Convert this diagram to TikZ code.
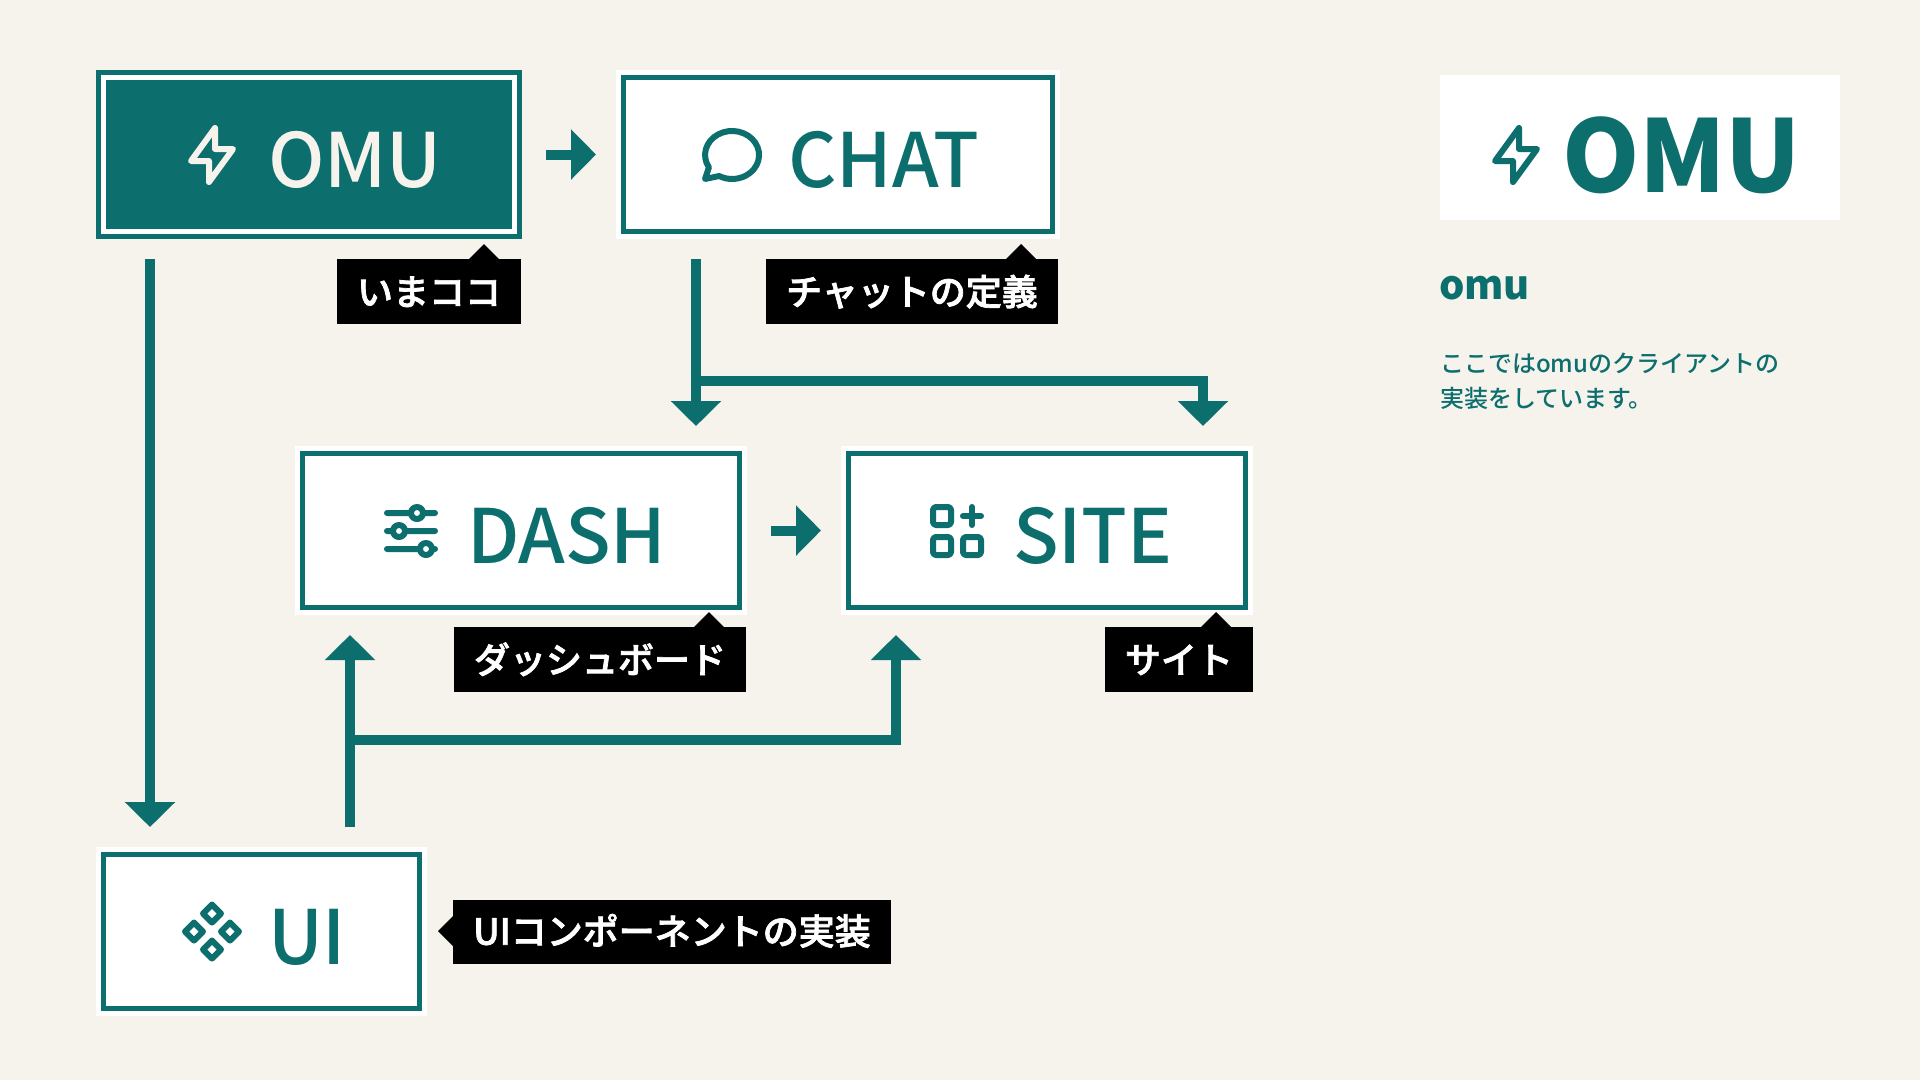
\documentclass[tikz,border=0pt]{standalone}
\usepackage{fontspec}
\usetikzlibrary{arrows.meta,calc}
\setmainfont{Noto Sans CJK JP}
\newfontfamily\medf{Noto Sans CJK JP Medium}
\newfontfamily\semif[FakeBold=2]{Noto Sans CJK JP Medium}
\definecolor{teal0}{HTML}{0D6E6E}
\definecolor{paper}{HTML}{F5F3EC}
\newcommand{\fsz}[1]{\fontsize{#1}{#1}\selectfont}
\tikzset{
  tagbox/.style={rectangle,fill=black,text=white,inner sep=0pt,outer sep=0pt,font=\fsz{36}\semif,text height=31.7pt,text depth=4.3pt,minimum height=65pt,anchor=north west},
  boxlabel/.style={inner sep=0pt,outer sep=0pt,anchor=base west,font=\fsz{75}\medf,text=teal0},
  conn/.style={draw=teal0,line width=10pt,line cap=butt,line join=miter},
  tip/.style={-{Triangle[length=25pt,width=49pt]},shorten >=20pt},
  ico/.style={line width=6pt,line cap=round,line join=round}
}
\newcommand{\iconbolt}[3]{\begin{scope}[shift={(#1,#2)},x=3pt,y=3pt]
 \draw[ico,draw=#3] (1,9)--(1,2)--(7,2)--(-1,-9)--(-1,-2)--(-7,-2)--cycle;\end{scope}}
\newcommand{\iconchat}[3]{\begin{scope}[shift={(#1,#2)},x=3pt,y=3pt]
 \draw[ico,draw=#3] (-9,-8)--(-7.7,-4.1) arc[start angle=210.9,end angle=-118.7,x radius=27pt,y radius=24pt]--cycle;\end{scope}}
\newcommand{\iconadj}[3]{\begin{scope}[shift={(#1,#2)},x=3pt,y=3pt]
 \draw[ico,draw=#3] (2,6) circle[radius=6pt] (-8,6)--(0,6) (4,6)--(8,6)
  (-4,0) circle[radius=6pt] (-8,0)--(-6,0) (-2,0)--(8,0)
  (5,-6) circle[radius=6pt] (-8,-6)--(3,-6) (7,-6)--(8,-6);\end{scope}}
\newcommand{\iconapps}[3]{\begin{scope}[shift={(#1,#2)},x=3pt,y=3pt]
 \draw[ico,draw=#3,rounded corners=3pt] (-8,8) rectangle (-2,2) (-8,-2) rectangle (-2,-8) (2,-2) rectangle (8,-8);
 \draw[ico,draw=#3] (2,5)--(8,5) (5,8)--(5,2);\end{scope}}
\newcommand{\iconcomp}[3]{\begin{scope}[shift={(#1,#2)},x=3pt,y=3pt]
 \foreach \cx/\cy in {-6/0,6/0,0/6,0/-6}{\draw[ico,draw=#3] (\cx-3,\cy)--(\cx,\cy-3)--(\cx+3,\cy)--(\cx,\cy+3)--cycle;}\end{scope}}
\newcommand{\whitebox}[6]{% name, x0,y0,x1,y1
 \node[rectangle,inner sep=0pt,outer sep=0pt,fill=white,minimum width=#4pt-#2pt,minimum height=#5pt-#3pt,anchor=north west] (#1) at (#2,#3) {};
 \draw[draw=teal0,line width=5pt,fill=white] (#2+7.5,#3+7.5) rectangle (#4-7.5,#5-7.5);}
\newcommand{\ptr}[2]{\fill[black] (#1-15,#2) -- (#1,#2-15) -- (#1+15,#2) -- cycle;}
\begin{document}
\begin{tikzpicture}[x=1pt,y=-1pt]
\fill[paper] (0,0) rectangle (1920,1080);
\useasboundingbox (0,0) rectangle (1920,1080);
% boxes
\node[rectangle,inner sep=0pt,outer sep=0pt,fill=teal0,minimum width=426pt,minimum height=169pt,anchor=north west] (omu) at (96,70) {};
\draw[draw=white,line width=5pt] (103.5,77.5) rectangle (514.5,231.5);
\whitebox{chat}{616}{70}{1060}{239}{}
\whitebox{dash}{295}{446}{747}{615}{}
\whitebox{site}{841}{446}{1253}{615}{}
\whitebox{ui}{96}{847}{427}{1016}{}
% icons
\iconbolt{212}{155}{paper}
\iconchat{732}{155}{teal0}
\iconadj{411}{531}{teal0}
\iconapps{957}{531}{teal0}
\iconcomp{212}{931.5}{teal0}
% labels
\node[boxlabel,text=paper] (omutext) at (268,187) {OMU};
\node[boxlabel] (chattext) at (788,187) {CHAT};
\node[boxlabel] (dashtext) at (467,563) {DASH};
\node[boxlabel] (sitetext) at (1013,563) {SITE};
\node[boxlabel] (uitext) at (268,964) {UI};
% connectors
\draw[conn,tip,shorten <=24pt] (omu.east) -- (chat.west);
\draw[conn,tip,shorten <=24pt] (dash.east) -- (site.west);
\draw[conn,tip,shorten <=20pt] ([xshift=54pt]omu.south west) -- ([xshift=54pt]ui.north west);
\coordinate (cjunc) at (696,381);
\coordinate (ujunc) at (350,740);
\draw[conn,tip,shorten <=20pt] ([xshift=80pt]chat.south west) -- ([xshift=80pt,yshift=0pt]chat.south west |- dash.north);
\draw[conn,tip] (cjunc) -| ([xshift=362pt]site.north west);
\draw[conn,tip,shorten <=20pt] ([xshift=254pt]ui.north west) -- ([xshift=55pt]dash.south west);
\draw[conn,tip] (ujunc) -| ([xshift=55pt]site.south west);
% tags
\ptr{484}{259}\node[tagbox,minimum width=184pt] (tagomu) at (337,259) {いまココ};
\ptr{1021}{259}\node[tagbox,minimum width=292pt] (tagchat) at (766,259) {チャットの定義};
\ptr{709}{627}\node[tagbox,minimum width=292pt] (tagdash) at (454,627) {ダッシュボード};
\ptr{1216}{627}\node[tagbox,minimum width=148pt] (tagsite) at (1105,627) {サイト};
\fill[black] (453,916) -- (438,931) -- (453,946) -- cycle;
\node[tagbox,minimum width=438pt,minimum height=64pt,text height=29.7pt] (tagui) at (453,900) {UIコンポーネントの実装};
% right panel
\node[rectangle,inner sep=0pt,outer sep=0pt,fill=white,minimum width=400pt,minimum height=145pt,anchor=north west] (logo) at (1440,75) {};
\iconbolt{1516}{155}{teal0}
\node[boxlabel,font=\fsz{100}\rmfamily\bfseries] (logotext) at (1562,192) {\scalebox{.985}[1]{OMU}};
\node[boxlabel,font=\fsz{40}\rmfamily\bfseries] (omuname) at (1439,299) {omu};
\node[boxlabel,font=\fsz{24}\medf] (line1) at (1440,372) {ここではomuのクライアントの};
\node[boxlabel,font=\fsz{24}\medf] (line2) at (1440,407) {実装をしています。};
\end{tikzpicture}
\end{document}
